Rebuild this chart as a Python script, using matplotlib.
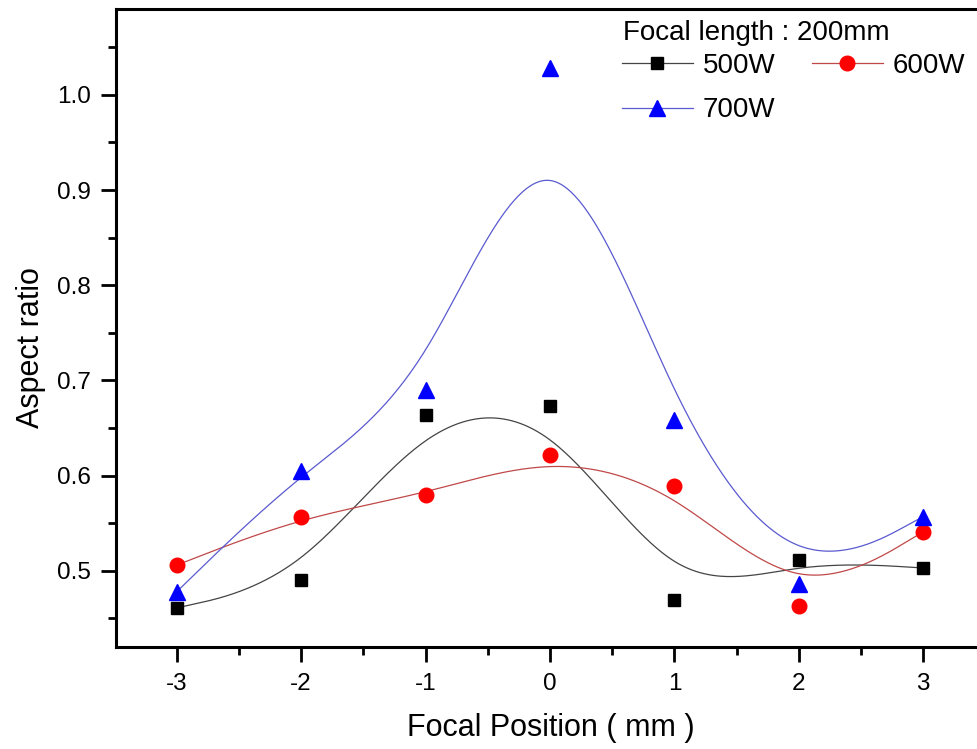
import numpy as np
import matplotlib
matplotlib.use("Agg")
import matplotlib.pyplot as plt
from matplotlib.lines import Line2D
from matplotlib.ticker import MultipleLocator, FormatStrFormatter

plt.rcParams["font.family"] = ["Liberation Sans", "DejaVu Sans"]
plt.rcParams["axes.unicode_minus"] = False

# Focal position (mm)
focal_pos = [-3, -2, -1, 0, 1, 2, 3]

# Aspect ratio for each laser power
ar_500w = [0.461, 0.490, 0.664, 0.673, 0.469, 0.511, 0.503]
ar_600w = [0.506, 0.557, 0.580, 0.622, 0.589, 0.463, 0.541]
ar_700w = [0.478, 0.605, 0.690, 1.028, 0.658, 0.486, 0.557]

legend_title = "Focal length : 200mm"


def bspline(px, py, n=60):
    # uniform cubic B-spline, data points as control points,
    # end points repeated so the curve starts/ends on them (Origin style)
    px = np.concatenate([[px[0]] * 2, px, [px[-1]] * 2]).astype(float)
    py = np.concatenate([[py[0]] * 2, py, [py[-1]] * 2]).astype(float)
    t = np.linspace(0, 1, n)
    w = np.array([(1 - t) ** 3,
                  3 * t ** 3 - 6 * t ** 2 + 4,
                  -3 * t ** 3 + 3 * t ** 2 + 3 * t + 1,
                  t ** 3]) / 6.0
    xs, ys = [], []
    for i in range(len(px) - 3):
        xs.append(w.T @ px[i:i + 4])
        ys.append(w.T @ py[i:i + 4])
    return np.concatenate(xs), np.concatenate(ys)


fig = plt.figure(figsize=(9.78, 7.49), dpi=100)
ax = fig.add_axes([115.7 / 978, 102 / 749, 869.8 / 978, 0.8514])

series = [
    ("500W", ar_500w, "black", "#444444", "s", 9),
    ("600W", ar_600w, "red", "#c04848", "o", 10.5),
    ("700W", ar_700w, "blue", "#5a5ad0", "^", 12),
]

handles = {}
for label, vals, mcol, lcol, mk, ms in series:
    sx, sy = bspline(focal_pos, vals)
    ax.plot(sx, sy, color=lcol, lw=0.9, zorder=2)
    ax.plot(focal_pos, vals, linestyle="none", marker=mk, ms=ms,
            color=mcol, markeredgecolor=mcol, zorder=3)
    handles[label] = Line2D([], [], color=lcol, lw=0.9, marker=mk, ms=ms,
                            markerfacecolor=mcol, markeredgecolor=mcol)

ax.set_xlim(-3.49, 3.5)
ax.set_ylim(0.42, 1.0898)
ax.xaxis.set_major_locator(MultipleLocator(1))
ax.xaxis.set_minor_locator(MultipleLocator(0.5))
ax.yaxis.set_major_locator(MultipleLocator(0.1))
ax.yaxis.set_minor_locator(MultipleLocator(0.05))
ax.yaxis.set_major_formatter(FormatStrFormatter("%.1f"))
ax.xaxis.set_major_formatter(FormatStrFormatter("%d"))

for s in ["left", "bottom", "top"]:
    ax.spines[s].set_linewidth(2.2)
ax.spines["right"].set_visible(False)

ax.tick_params(which="major", direction="out", length=11, width=2, labelsize=17.5)
ax.tick_params(which="minor", direction="out", length=6, width=2)
ax.tick_params(axis="y", which="major", pad=7)
ax.tick_params(axis="x", which="major", pad=8)
ax.tick_params(top=False, right=False, which="both")

ax.set_xlabel("Focal Position ( mm )", fontsize=22, labelpad=13)
ax.set_ylabel("Aspect ratio", fontsize=22, labelpad=8)
ax.yaxis.label.set_y(0.47)

# legend title as its own text, entries below it
fig.text(623 / 978, 1 - 33 / 749, legend_title, fontsize=20, ha="left", va="center")

order = ["500W", "700W", "600W"]
leg = ax.legend([handles[o] for o in order], order,
                ncol=2, frameon=False, fontsize=20,
                loc="upper left", bbox_to_anchor=(622 / 978, 1 - 53 / 749),
                bbox_transform=fig.transFigure,
                handlelength=2.55, handletextpad=0.36, columnspacing=1.3,
                labelspacing=0.66, borderpad=0, borderaxespad=0)

fig.savefig("out.png", dpi=100)
